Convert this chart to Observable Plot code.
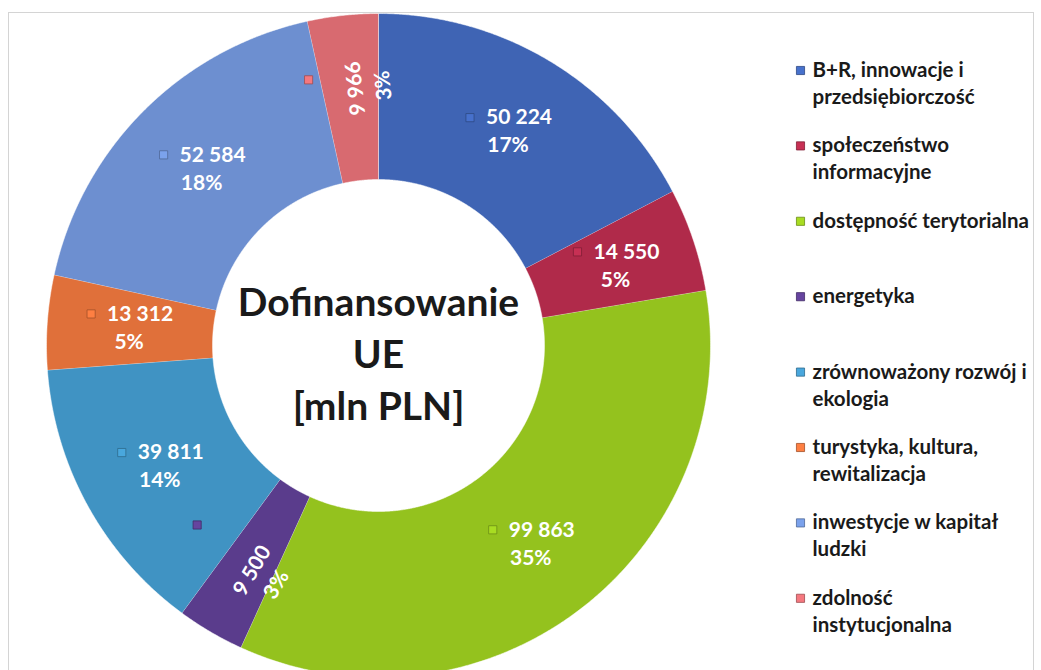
<!DOCTYPE html>
<html>
<head>
<meta charset="utf-8">
<script src="https://cdn.jsdelivr.net/npm/d3@7"></script>
<script src="https://cdn.jsdelivr.net/npm/@observablehq/plot@0.6"></script>
<style>
  html, body { margin: 0; padding: 0; background: #ffffff; }
  #chart { width: 1041px; height: 670px; }
</style>
</head>
<body>
<div id="chart"></div>
<script>
// ---------------- data ----------------
const categories = [
  "B+R, innowacje i przedsiębiorczość",
  "społeczeństwo informacyjne",
  "dostępność terytorialna",
  "energetyka",
  "zrównoważony rozwój i ekologia",
  "turystyka, kultura, rewitalizacja",
  "inwestycje w kapitał ludzki",
  "zdolność instytucjonalna"
];
const values = [50224, 14550, 99863, 9500, 39811, 13312, 52584, 9966];
const valueLabels = ["50 224", "14 550", "99 863", "9 500", "39 811", "13 312", "52 584", "9 966"];
const percentLabels = ["17%", "5%", "35%", "3%", "14%", "5%", "18%", "3%"];
const legendLines = [
  ["B+R, innowacje i", "przedsiębiorczość"],
  ["społeczeństwo", "informacyjne"],
  ["dostępność terytorialna"],
  ["energetyka"],
  ["zrównoważony rozwój i", "ekologia"],
  ["turystyka, kultura,", "rewitalizacja"],
  ["inwestycje w kapitał", "ludzki"],
  ["zdolność", "instytucjonalna"]
];
const rotatedLabels = ["energetyka", "zdolność instytucjonalna"];
const colors = ["#3f64b4", "#b02a4a", "#94c21e", "#5a3c8c", "#4093c3", "#e0703a", "#6d8fd0", "#d86a70"];
const centerTitle = ["Dofinansowanie", "UE", "[mln PLN]"];

// ---------------- layout ----------------
const W = 1041, H = 670;
const cx = 378, cy = 345, R = 332, R0 = 166;
const labelR = 250, rotLabelR = 258;
const lineGap = 14;
const legendX = 800, legendTop = 70, legendStep = 75.4, legendLineH = 27;

const rows = categories.map((c, i) => ({category: c, value: values[i], vlabel: valueLabels[i], plabel: percentLabels[i]}));
const arcs = d3.pie().sort(null).value(d => d.value).startAngle(0).endAngle(2 * Math.PI)(rows);

const polar = (a, r) => [cx + r * Math.sin(a), cy - r * Math.cos(a)];
const colorOf = cat => colors[categories.indexOf(cat)];

// slice outlines
const slicePts = [];
for (const arc of arcs) {
  const n = Math.max(2, Math.ceil((arc.endAngle - arc.startAngle) / 0.005));
  for (let k = 0; k <= n; k++) {
    const a = arc.startAngle + (arc.endAngle - arc.startAngle) * k / n;
    const [x, y] = polar(a, R);
    slicePts.push({category: arc.data.category, x, y});
  }
  for (let k = n; k >= 0; k--) {
    const a = arc.startAngle + (arc.endAngle - arc.startAngle) * k / n;
    const [x, y] = polar(a, R0);
    slicePts.push({category: arc.data.category, x, y});
  }
}

// data labels
const labelLines = [];
const labelKeys = [];
for (const arc of arcs) {
  const d = arc.data;
  const mid = (arc.startAngle + arc.endAngle) / 2;
  const rotated = rotatedLabels.includes(d.category);
  let rot = 0;
  if (rotated) {
    rot = mid * 180 / Math.PI - 90;
    while (rot > 0) rot -= 180;
    while (rot <= -180) rot += 180;
  }
  const [bx, by] = polar(mid, rotated ? rotLabelR : labelR);
  const t = rot * Math.PI / 180, c = Math.cos(t), s = Math.sin(t);
  const place = (lx, ly) => [bx + lx * c - ly * s, by + lx * s + ly * c];
  const vx = rotated ? 0 : 11;
  const shift = rotated ? 19 : 0;
  const [x1, y1] = place(vx, -lineGap + shift);
  const [x2, y2] = place(0, lineGap + shift);
  labelLines.push({text: d.vlabel, x: x1, y: y1, rot});
  labelLines.push({text: d.plabel, x: x2, y: y2, rot});
  if (rotated) {
    const ex = Math.abs(30 * c) + Math.abs(25 * s);
    labelKeys.push({category: d.category, x: bx - ex - 14, y: by - 85 * Math.abs(c)});
  } else {
    labelKeys.push({category: d.category, x: bx - 38, y: by - lineGap});
  }
}

// legend
const legendText = [];
const legendKeys = [];
legendLines.forEach((lines, i) => {
  const y0 = legendTop + i * legendStep;
  legendKeys.push({category: categories[i], x: legendX, y: y0});
  lines.forEach((t, j) => legendText.push({text: t, x: legendX + 12, y: y0 + j * legendLineH}));
});

// center title
const centerRows = centerTitle.map((t, i) => ({text: t, x: cx, y: 303.5 + i * 52}));

const keyFill = d => d3.color(colorOf(d.category)).brighter(0.35).formatHex();
const keyStroke = d => d3.color(colorOf(d.category)).darker(0.9).formatHex();

const chart = Plot.plot({
  width: W,
  height: H,
  margin: 0,
  style: {fontFamily: "Lato, 'Open Sans', sans-serif", background: "#ffffff"},
  x: {domain: [0, W], range: [0, W], axis: null},
  y: {domain: [0, H], range: [0, H], axis: null},
  color: {domain: categories, range: colors},
  marks: [
    Plot.frame({stroke: "#d4d4d4", insetLeft: 8, insetTop: 12, insetRight: 8, insetBottom: -4}),
    Plot.line(slicePts, {x: "x", y: "y", z: "category", fill: "category", stroke: "#ffffff", strokeOpacity: 0.5, strokeWidth: 1, curve: "linear"}),
    Plot.dot(labelKeys, {x: "x", y: "y", fill: keyFill, symbol: "square", r: 4.6, stroke: keyStroke, strokeWidth: 0.8}),
    Plot.text(labelLines, {x: "x", y: "y", text: "text", rotate: "rot", fill: "#ffffff", fontWeight: "bold", fontSize: 21}),
    Plot.text(centerRows, {x: "x", y: "y", text: "text", fill: "#1a1a1a", fontWeight: "bold", fontSize: 39}),
    Plot.dot(legendKeys, {x: "x", y: "y", fill: keyFill, symbol: "square", r: 4.6, stroke: keyStroke, strokeWidth: 0.8}),
    Plot.text(legendText, {x: "x", y: "y", text: "text", textAnchor: "start", fill: "#1a1a1a", fontWeight: "bold", fontSize: 20.5})
  ]
});
document.getElementById("chart").appendChild(chart);
</script>
</body>
</html>
